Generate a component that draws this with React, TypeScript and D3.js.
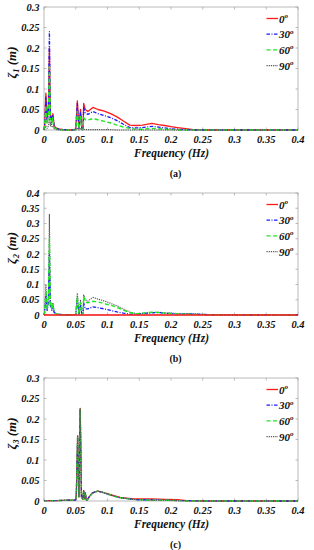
import React from "react";
import * as d3 from "d3";

// ---------- data ----------
const freqA = [0, 0.001, 0.003, 0.005, 0.007, 0.0085, 0.010, 0.011, 0.0125, 0.014, 0.016, 0.019, 0.023, 0.03, 0.045, 0.05, 0.0525, 0.055, 0.0575, 0.0595, 0.0615, 0.0625, 0.065, 0.069, 0.077, 0.085, 0.095, 0.105, 0.115, 0.125, 0.135, 0.145, 0.155, 0.17, 0.18, 0.19, 0.2, 0.21, 0.22, 0.235, 0.26, 0.3, 0.4];
const a0 = [0, 0.01, 0.09, 0.02, 0.06, 0.2, 0.03, 0.035, 0.02, 0.04, 0.01, 0.005, 0.003, 0.001, 0, 0.002, 0.071, 0.003, 0.05, 0.002, 0.004, 0.065, 0.05, 0.045, 0.055, 0.05, 0.046, 0.04, 0.032, 0.022, 0.012, 0.011, 0.012, 0.016, 0.013, 0.011, 0.008, 0.006, 0.004, 0.001, 0, 0, 0];
const a30 = [0, 0.01, 0.08, 0.02, 0.05, 0.24, 0.03, 0.035, 0.02, 0.035, 0.008, 0.004, 0.002, 0.001, 0, 0.002, 0.065, 0.004, 0.045, 0.002, 0.003, 0.055, 0.042, 0.038, 0.045, 0.04, 0.035, 0.03, 0.023, 0.014, 0.006, 0.005, 0.006, 0.009, 0.007, 0.005, 0.003, 0.002, 0.001, 0, 0, 0, 0];
const a60 = [0, 0.01, 0.06, 0.015, 0.04, 0.16, 0.025, 0.03, 0.015, 0.03, 0.006, 0.003, 0.001, 0, 0, 0.001, 0.045, 0.003, 0.035, 0.001, 0.002, 0.03, 0.025, 0.024, 0.028, 0.025, 0.021, 0.017, 0.012, 0.007, 0.004, 0.002, 0.002, 0.004, 0.003, 0.002, 0.001, 0, 0, 0, 0, 0, 0];
const a90 = [0, 0.002, 0.01, 0.004, 0.01, 0.03, 0.01, 0.02, 0.008, 0.01, 0.003, 0.001, 0, 0, 0, 0, 0.004, 0, 0.003, 0, 0, 0.002, 0.001, 0.001, 0.001, 0.001, 0.001, 0.001, 0, 0, 0, 0, 0, 0, 0, 0, 0, 0, 0, 0, 0, 0, 0];

const freqB = freqA;
const b0 = [0, 0, 0, 0, 0, 0, 0, 0, 0, 0, 0, 0, 0, 0, 0, 0, 0, 0, 0, 0, 0, 0, 0, 0, 0, 0, 0, 0, 0, 0, 0, 0, 0, 0, 0, 0, 0, 0, 0, 0, 0, 0, 0];
const b30 = [0, 0.008, 0.06, 0.015, 0.04, 0.2, 0.025, 0.03, 0.015, 0.03, 0.008, 0.004, 0.002, 0.001, 0, 0.002, 0.05, 0.003, 0.03, 0.002, 0.003, 0.04, 0.02, 0.02, 0.027, 0.024, 0.02, 0.015, 0.01, 0.006, 0.003, 0.003, 0.005, 0.007, 0.008, 0.006, 0.005, 0.004, 0.004, 0.003, 0.001, 0, 0];
const b60 = [0, 0.01, 0.08, 0.02, 0.05, 0.25, 0.03, 0.035, 0.018, 0.035, 0.009, 0.004, 0.002, 0.001, 0, 0.002, 0.06, 0.004, 0.04, 0.002, 0.003, 0.06, 0.042, 0.04, 0.045, 0.043, 0.037, 0.032, 0.025, 0.016, 0.008, 0.004, 0.006, 0.009, 0.008, 0.006, 0.005, 0.004, 0.003, 0.002, 0.001, 0, 0];
const b90 = [0, 0.01, 0.1, 0.02, 0.06, 0.33, 0.03, 0.04, 0.02, 0.04, 0.01, 0.005, 0.003, 0.001, 0, 0.002, 0.072, 0.004, 0.05, 0.002, 0.004, 0.066, 0.05, 0.045, 0.058, 0.052, 0.046, 0.038, 0.03, 0.02, 0.01, 0.004, 0.005, 0.008, 0.009, 0.007, 0.006, 0.005, 0.005, 0.004, 0.001, 0, 0];

const freqC = [0, 0.02, 0.04, 0.048, 0.05, 0.051, 0.053, 0.055, 0.057, 0.059, 0.061, 0.0625, 0.064, 0.065, 0.0665, 0.068, 0.072, 0.076, 0.08, 0.085, 0.09, 0.1, 0.11, 0.12, 0.13, 0.14, 0.15, 0.17, 0.19, 0.21, 0.225, 0.25, 0.3, 0.4];
const c0 = [0.001, 0.001, 0.002, 0.002, 0.003, 0.02, 0.159, 0.01, 0.226, 0.01, 0.004, 0.026, 0.005, 0.02, 0.003, 0.002, 0.012, 0.019, 0.022, 0.024, 0.022, 0.018, 0.013, 0.009, 0.007, 0.005, 0.005, 0.005, 0.004, 0.003, 0.001, 0, 0, 0];
const c30 = [0.001, 0.001, 0.002, 0.002, 0.003, 0.02, 0.158, 0.01, 0.225, 0.01, 0.004, 0.025, 0.005, 0.02, 0.003, 0.002, 0.012, 0.019, 0.022, 0.024, 0.022, 0.017, 0.012, 0.008, 0.006, 0.004, 0.003, 0.003, 0.002, 0.001, 0.001, 0, 0, 0];
const c60 = [0.001, 0.001, 0.002, 0.002, 0.003, 0.02, 0.158, 0.01, 0.224, 0.01, 0.004, 0.025, 0.005, 0.02, 0.003, 0.002, 0.012, 0.019, 0.022, 0.024, 0.022, 0.017, 0.012, 0.008, 0.006, 0.004, 0.003, 0.002, 0.002, 0.001, 0, 0, 0, 0];
const c90 = [0.001, 0.001, 0.002, 0.002, 0.003, 0.02, 0.157, 0.01, 0.224, 0.01, 0.004, 0.024, 0.005, 0.02, 0.003, 0.002, 0.012, 0.019, 0.022, 0.024, 0.022, 0.017, 0.012, 0.008, 0.006, 0.004, 0.003, 0.002, 0.002, 0.001, 0, 0, 0, 0];

const legendLabels = ["0", "30", "60", "90"];
const xTicks = [0, 0.05, 0.1, 0.15, 0.2, 0.25, 0.3, 0.35, 0.4];

// ---------- styles ----------
const seriesStyles = [
  { color: "#ff1a1a", dash: "", width: 1.3 },
  { color: "#1a1aff", dash: "3.5,1.5,1,1.5", width: 1.3 },
  { color: "#1ee61e", dash: "4,2.5", width: 1.4 },
  { color: "#555555", dash: "1.2,1", width: 1.1 },
];

const FONT = "'Liberation Serif', 'Times New Roman', serif";
const LEFT = 44;
const RIGHT = 298;

interface PanelProps {
  top: number;
  bottom: number;
  yMax: number;
  sub: string;
  freq: number[];
  series: number[][];
  caption: string;
  order: number[];
}

function Panel({ top, bottom, yMax, sub, freq, series, caption, order }: PanelProps) {
  const x = d3.scaleLinear().domain([0, 0.4]).range([LEFT, RIGHT]);
  const y = d3.scaleLinear().domain([0, yMax]).range([bottom, top]);
  const yTicks = d3.range(0, yMax + 1e-9, 0.05).map((v) => +v.toFixed(2));
  const line = d3
    .line<number>()
    .x((_, i) => x(freq[i]))
    .y((d) => y(d));
  const fmt = (v: number) => (v === 0 ? "0" : String(+v.toFixed(2)));
  const frame = "#a8a8a8";
  const legendOffsets = [11.5, 27.2, 42.9, 58.6];
  const midY = (top + bottom) / 2;
  return (
    <g>
      {/* frame */}
      <rect x={LEFT} y={top} width={RIGHT - LEFT} height={bottom - top} fill="none" stroke={frame} strokeWidth={0.8} />
      {xTicks.map((t) => (
        <g key={"xt" + t}>
          <line x1={x(t)} x2={x(t)} y1={bottom} y2={bottom - 2.5} stroke={frame} strokeWidth={0.8} />
          <line x1={x(t)} x2={x(t)} y1={top} y2={top + 2.5} stroke={frame} strokeWidth={0.8} />
          <text x={x(t)} y={bottom + 13} textAnchor="middle" fontFamily={FONT} fontStyle="italic" fontWeight="bold" fontSize={10.5} fill="#111">
            {fmt(t)}
          </text>
        </g>
      ))}
      {yTicks.map((t) => (
        <g key={"yt" + t}>
          <line x1={LEFT} x2={LEFT + 2.5} y1={y(t)} y2={y(t)} stroke={frame} strokeWidth={0.8} />
          <line x1={RIGHT} x2={RIGHT - 2.5} y1={y(t)} y2={y(t)} stroke={frame} strokeWidth={0.8} />
          <text x={39.5} y={y(t) + 3.6} textAnchor="end" fontFamily={FONT} fontStyle="italic" fontWeight="bold" fontSize={10.5} fill="#111">
            {fmt(t)}
          </text>
        </g>
      ))}
      {/* series */}
      {order.map((k) => (
        <path
          key={"s" + k}
          d={line(series[k]) || ""}
          fill="none"
          stroke={seriesStyles[k].color}
          strokeWidth={seriesStyles[k].width}
          strokeDasharray={seriesStyles[k].dash}
          strokeLinejoin="round"
        />
      ))}
      {/* legend */}
      {legendLabels.map((lab, i) => (
        <g key={"lg" + i}>
          <line
            x1={266.5}
            x2={278}
            y1={top + legendOffsets[i]}
            y2={top + legendOffsets[i]}
            stroke={seriesStyles[i].color}
            strokeWidth={seriesStyles[i].width}
            strokeDasharray={seriesStyles[i].dash}
          />
          <text x={279} y={top + legendOffsets[i] + 4} fontFamily={FONT} fontStyle="italic" fontWeight="bold" fontSize={11} fill="#111">
            {lab}
            <tspan dy={-4.5} fontSize={7}>o</tspan>
          </text>
        </g>
      ))}
      {/* axis titles */}
      <text x={171.5} y={bottom + 27} textAnchor="middle" fontFamily={FONT} fontStyle="italic" fontWeight="bold" fontSize={11.5} fill="#111">
        Frequency (Hz)
      </text>
      <text
        transform={`translate(16, ${midY - 6}) rotate(-90)`}
        textAnchor="middle"
        fontFamily={FONT}
        fontStyle="italic"
        fontWeight="bold"
        fontSize={13}
        fill="#111"
      >
        ζ<tspan dy={3} fontSize={8.5}>{sub}</tspan>
        <tspan dy={-3}> (m)</tspan>
      </text>
      <text x={175.5} y={bottom + 46.5} textAnchor="middle" fontFamily={FONT} fontWeight="bold" fontSize={10} fill="#111">
        {caption}
      </text>
    </g>
  );
}

export default function App() {
  return (
    <svg width={314} height={550} style={{ position: "absolute", left: 0, top: 0, background: "#fff" }}>
      <rect x={0} y={0} width={314} height={550} fill="#fff" />
      <Panel top={7} bottom={130} yMax={0.3} sub="1" freq={freqA} series={[a0, a30, a60, a90]} caption="(a)" order={[0, 1, 2, 3]} />
      <Panel top={193} bottom={315} yMax={0.4} sub="2" freq={freqB} series={[b0, b30, b60, b90]} caption="(b)" order={[3, 1, 2, 0]} />
      <Panel top={378} bottom={501} yMax={0.3} sub="3" freq={freqC} series={[c0, c30, c60, c90]} caption="(c)" order={[0, 1, 2, 3]} />
    </svg>
  );
}
